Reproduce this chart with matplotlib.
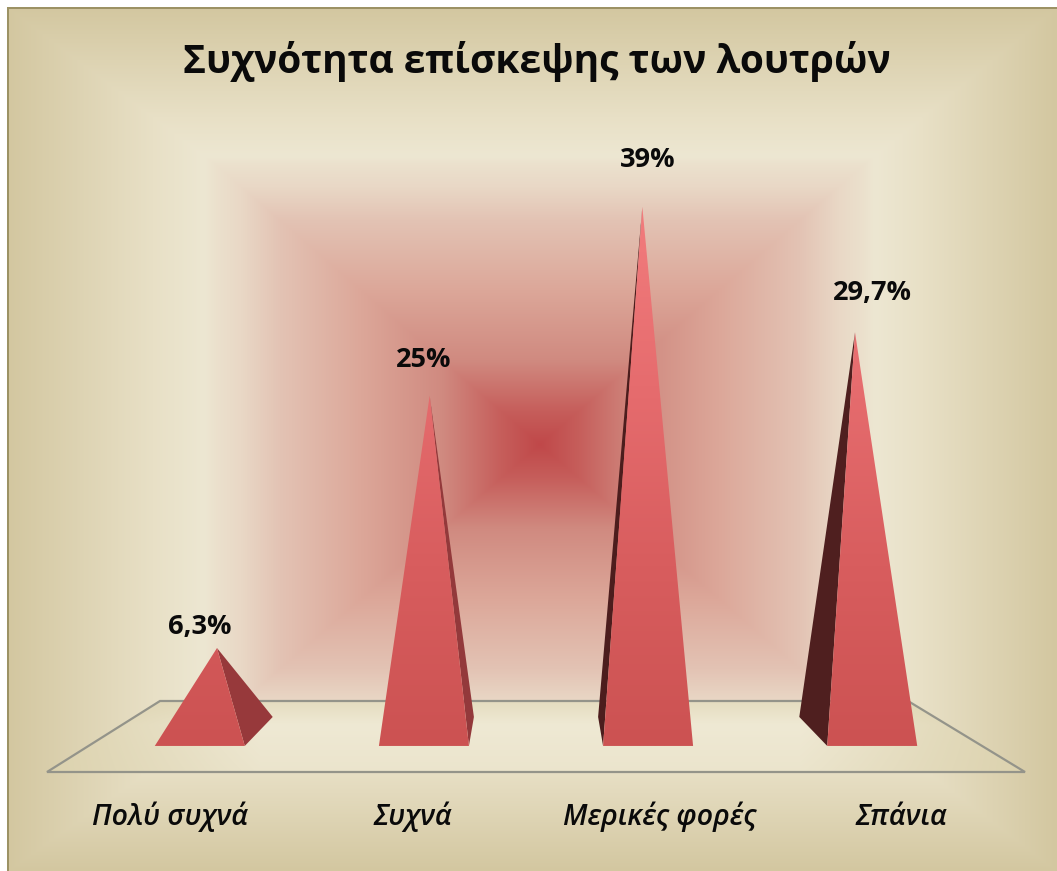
import matplotlib
matplotlib.use("Agg")
import matplotlib.pyplot as plt
import matplotlib.colors as cl
import numpy as np
from matplotlib.patches import Polygon

plt.rcParams['font.family'] = ['Open Sans', 'Noto Sans', 'DejaVu Sans']

categories = ["Πολύ συχνά", "Συχνά", "Μερικές φορές", "Σπάνια"]
values = [6.3, 25, 39, 29.7]
value_labels = ["6,3%", "25%", "39%", "29,7%"]
title = "Συχνότητα επίσκεψης των λουτρών"
tick_pos = [-0.22, 0.92, 2.08, 3.22]

W, H = 1057, 871

# stops of the wall gradient, 0 centre, 1 edge of the red square, 2 outer edge
stops = [0, 0.12, 0.3, 0.55, 0.8, 0.92, 1.05, 1.3, 2.0]
cols = ["#C04849", "#C65E5B", "#D08A80", "#DCA799", "#E3C3B4", "#E9D8C6", "#EDE7D2", "#E8E0C6", "#D3C7A0"]
rgb = np.array([cl.to_rgb(c) for c in cols])

fig = plt.figure(figsize=(W / 100, H / 100), dpi=100, facecolor="white")

# background in pixel units
bg = fig.add_axes([0, 0, 1, 1])
bg.set_xlim(0, W)
bg.set_ylim(H, 0)
bg.axis("off")

px, py = np.meshgrid(np.arange(W) + 0.5, np.arange(H) + 0.5)
cx, cy = 540, 445
def norm_dist(d, inner, outer):
    d = np.abs(d)
    return np.where(d < inner, d / inner, 1 + (d - inner) / (outer - inner))
ux = np.where(px < cx, norm_dist(px - cx, 325, 532), norm_dist(px - cx, 325, 517))
uy = np.where(py < cy, norm_dist(py - cy, 280, 436), norm_dist(py - cy, 280, 426))
u = np.maximum(ux, uy)
img = np.dstack([np.interp(u, stops, rgb[:, k]) for k in range(3)])
img[py < 8] = 1
img[px < 7] = 1
img[(py >= 8) & (py < 10) & (px >= 7)] = cl.to_rgb("#9C9264")
img[(px >= 7) & (px < 9) & (py >= 8)] = cl.to_rgb("#9C9264")
bg.imshow(img, extent=(0, W, H, 0), aspect="auto", interpolation="bilinear", zorder=0)

# floor plane
floor_xy = [(47, 772), (1025, 772), (908, 701), (160, 701)]
fx = np.interp(px, [47, 260, 800, 1025], [0, 1, 1, 0])
fy = np.interp(py, [701, 725, 772], [0.45, 1, 0.8])
f = (fx * fy)[..., None]
c1 = np.array(cl.to_rgb("#DCD2AE"))
c2 = np.array(cl.to_rgb("#EFE9D4"))
floor_img = c1 + (c2 - c1) * f
fim = bg.imshow(floor_img, extent=(0, W, H, 0), aspect="auto", zorder=1)
floor = Polygon(floor_xy, closed=True, fill=False, edgecolor="#94948A", linewidth=1.6, zorder=2, joinstyle="miter")
bg.add_patch(floor)
fim.set_clip_path(floor)
bg.set_xlim(0, W)
bg.set_ylim(H, 0)

# chart axes, bottom edge sits on the front of the floor
ax = fig.add_axes([0, (H - 772) / H, 1, 772 / H])
ax.patch.set_alpha(0)
for s in ax.spines.values():
    s.set_visible(False)
ax.set_yticks([])

xscale = 212.67
yscale = 13.49
xlim = (-217 / xscale, (W - 217) / xscale)
ylim = (-39 / yscale, 733 / yscale)

face_cmap = cl.LinearSegmentedColormap.from_list("face", ["#CC5252", "#D85D5E", "#E66C6E", "#F27C7D"])
grad = np.linspace(1, 0, 256).reshape(-1, 1)
y_front = -0.96
y_back = 1.19
hw_front = 0.2116
hw_back = 0.181
side_cols = ["#97393B", "#93393B", "#4C1D1D", "#4F1F1F"]

for ii, v in enumerate(values):
    shift = (ii - 1.5) * 0.054
    fc = ii + shift
    bc = ii - shift
    front = [(fc - hw_front, y_front), (fc + hw_front, y_front), (ii, v)]
    if ii < 2:
        side = [(fc + hw_front, y_front), (bc + hw_back, y_back), (ii, v)]
    else:
        side = [(fc - hw_front, y_front), (bc - hw_back, y_back), (ii, v)]
    ax.add_patch(Polygon(side, closed=True, facecolor=side_cols[ii], edgecolor="none", zorder=3))
    p = Polygon(front, closed=True, facecolor="none", edgecolor="none", zorder=4)
    ax.add_patch(p)
    im = ax.imshow(grad, extent=(fc - 0.3, fc + 0.3, y_front, 39), aspect="auto", cmap=face_cmap, zorder=4)
    im.set_clip_path(p)
    ax.text(fc, v * 1.0586 + 1.19, value_labels[ii], ha="center", va="center", fontsize=19.5,
            fontweight="bold", color="#0A0A0A", zorder=5)

ax.set_xlim(xlim)
ax.set_ylim(ylim)
ax.set_xticks(tick_pos)
ax.set_xticklabels(categories, fontsize=20.5, fontstyle="italic", fontweight="semibold", color="#0A0A0A")
ax.tick_params(axis="x", length=0, pad=38)
for lab in ax.get_xticklabels():
    lab.set_va("baseline")

fig.text(537 / W, 1 - 62 / H, title, ha="center", va="center", fontsize=28, fontweight="bold", color="#0A0A0A")

plt.savefig("out.png", dpi=100)
